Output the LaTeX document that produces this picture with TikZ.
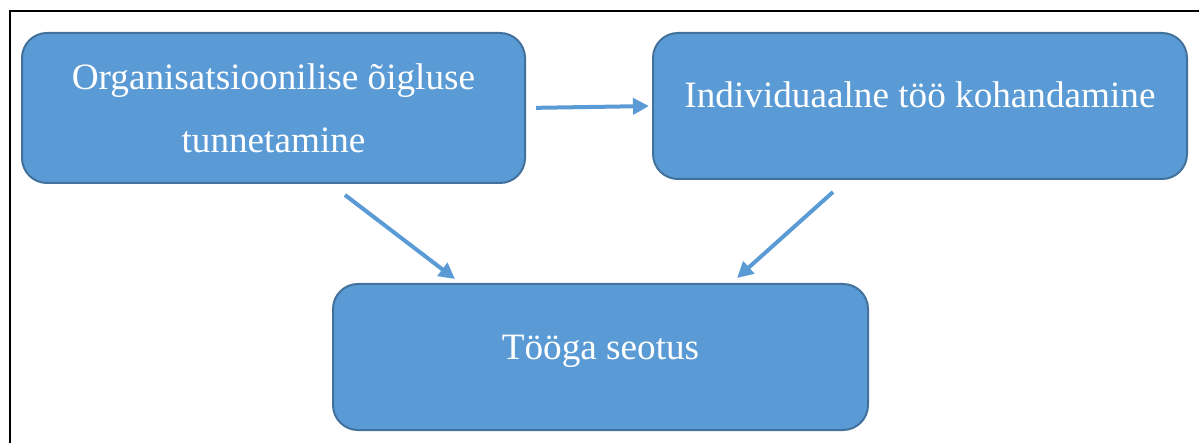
\documentclass[tikz,border=0pt]{standalone}
\usepackage{fontspec}
\setmainfont{Liberation Serif}
\usetikzlibrary{arrows.meta,calc}
\definecolor{kastsinine}{RGB}{91,155,213}
\definecolor{kastaar}{RGB}{65,113,156}
\tikzset{
 kast/.style={draw=kastaar, fill=kastsinine, line width=1pt, rounded corners=12.5pt,
  text=white, align=center, inner sep=0pt,
  font=\fontsize{18.6pt}{31.5pt}\selectfont},
 yksrida/.style={text height=10pt, text depth=8pt},
 nool/.style={draw=kastsinine, line width=2pt, -{Triangle[length=8pt,width=8pt]}}
}

\begin{document}
\begin{tikzpicture}[x=0.5pt,y=-0.5pt]
\useasboundingbox (0,0) rectangle (1199,443);
% raam
\draw[line width=1pt] (10,460) -- (10,11) -- (1220,11);

% kastid
\node[kast, minimum width=251.5pt, minimum height=75pt] (oigl) at (273.5,108)
 {Organisatsioonilise õigluse\\tunnetamine};
\node[kast, yksrida, minimum width=267pt, minimum height=73pt] (koh) at (920,106)
 {Individuaalne töö kohandamine};
\node[kast, yksrida, minimum width=267.5pt, minimum height=73pt] (seot) at (600.5,357)
 {Tööga seotus};

% nooled
\coordinate (n2a) at (345,195);
\coordinate (n2b) at (455,279);
\coordinate (n3a) at (833,192);
\coordinate (n3b) at (737,278);
\draw[nool, shorten <=5pt, shorten >=1.5pt] (oigl.east) -- (koh.west);
\draw[nool] (n2a) -- (n2b);
\draw[nool] (n3a) -- (n3b);
\end{tikzpicture}
\end{document}
